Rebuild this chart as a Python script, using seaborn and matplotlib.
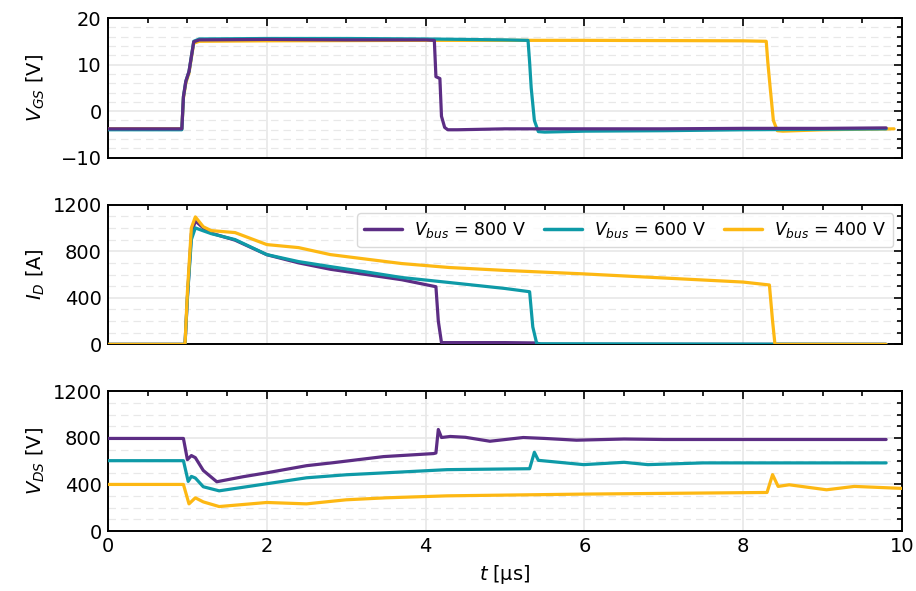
import matplotlib
matplotlib.use("Agg")
import matplotlib.pyplot as plt
import seaborn as sns
import pandas as pd
from matplotlib.ticker import MultipleLocator

# ---------------- data ----------------
labels = ["$V_{bus}$ = 800 V", "$V_{bus}$ = 600 V", "$V_{bus}$ = 400 V"]
colors = ["#5c2d84", "#0e9aa7", "#fdb813"]

# V_GS
vgs_t_800 = [0, 0.93, 0.95, 0.98, 1.02, 1.08, 1.15, 2.0, 3.0, 4.0, 4.11, 4.13, 4.18, 4.20, 4.24, 4.28, 4.4, 5, 6, 7, 8, 9, 9.8]
vgs_v_800 = [-3.8, -3.8, 3.1, 6.4, 8.5, 14.9, 15.3, 15.4, 15.3, 15.3, 15.2, 7.4, 7.0, -1.1, -3.5, -4.0, -4.0, -3.8, -3.8, -3.8, -3.7, -3.7, -3.6]
vgs_t_600 = [0, 0.93, 0.95, 0.98, 1.02, 1.08, 1.15, 2, 3, 4, 5, 5.29, 5.31, 5.33, 5.37, 5.42, 5.5, 6, 7, 8, 9, 9.8]
vgs_v_600 = [-4.0, -4.0, 3.1, 6.4, 8.5, 15.0, 15.5, 15.6, 15.6, 15.5, 15.3, 15.2, 10.5, 5.0, -2.0, -4.4, -4.5, -4.3, -4.2, -4.0, -3.9, -3.8]
vgs_t_400 = [0, 0.93, 0.95, 0.98, 1.02, 1.08, 1.15, 2, 4, 6, 8, 8.29, 8.31, 8.34, 8.38, 8.43, 8.5, 9, 9.9]
vgs_v_400 = [-3.8, -3.8, 2.8, 6.0, 8.2, 14.6, 15.0, 15.1, 15.2, 15.2, 15.1, 15.0, 10.5, 5.0, -2.0, -4.2, -4.3, -4.0, -3.8]

# I_D
id_t_800 = [0, 0.97, 1.0, 1.05, 1.10, 1.2, 1.3, 1.6, 2.0, 2.4, 2.8, 3.3, 3.7, 4.13, 4.16, 4.2, 5.0, 5.4, 5.45, 9.8]
id_v_800 = [0, 0, 400, 950, 1060, 1000, 955, 895, 770, 700, 645, 595, 555, 495, 200, 15, 15, 12, 0, 0]
id_t_600 = [0, 0.97, 1.0, 1.05, 1.10, 1.2, 1.3, 1.6, 2.0, 2.4, 2.8, 3.3, 3.7, 4.3, 5.0, 5.31, 5.35, 5.40, 9.8]
id_v_600 = [0, 0, 400, 900, 1000, 975, 951, 900, 771, 711, 668, 617, 574, 531, 480, 452, 150, 5, 0]
id_t_400 = [0, 0.97, 1.0, 1.05, 1.10, 1.2, 1.3, 1.6, 2.0, 2.4, 2.8, 3.3, 3.7, 4.3, 5, 6, 7, 8, 8.33, 8.37, 8.40, 9.8]
id_v_400 = [0, 0, 450, 1000, 1095, 1010, 977, 960, 857, 831, 771, 728, 694, 660, 635, 605, 570, 535, 510, 200, 0, 0]

# V_DS
vds_t_800 = [0, 0.95, 1.0, 1.05, 1.1, 1.2, 1.37, 1.7, 2.0, 2.5, 2.84, 3.47, 4.1, 4.13, 4.16, 4.2, 4.31, 4.5, 4.81, 5.23, 5.5, 5.9, 6.5, 7, 8, 9, 9.8]
vds_v_800 = [795, 795, 613, 648, 630, 520, 423, 466, 500, 561, 587, 639, 665, 670, 872, 803, 812, 805, 771, 803, 795, 780, 790, 786, 786, 786, 786]
vds_t_600 = [0, 0.95, 1.01, 1.05, 1.1, 1.2, 1.4, 2.0, 2.5, 3.0, 3.5, 4.27, 5.31, 5.37, 5.42, 5.99, 6.5, 6.8, 7.5, 9.8]
vds_v_600 = [604, 604, 426, 469, 455, 380, 345, 406, 457, 483, 500, 527, 535, 676, 607, 570, 590, 570, 585, 585]
vds_t_400 = [0, 0.95, 1.02, 1.1, 1.2, 1.4, 2.0, 2.5, 3.0, 3.5, 4.27, 5.99, 8.3, 8.37, 8.44, 8.58, 9.05, 9.4, 10]
vds_v_400 = [400, 400, 233, 285, 250, 210, 245, 233, 268, 285, 302, 317, 331, 484, 383, 397, 354, 383, 366]

panels = [
    ("$V_{GS}$ [V]", [(vgs_t_800, vgs_v_800), (vgs_t_600, vgs_v_600), (vgs_t_400, vgs_v_400)], (-10, 20), 10, 2, [5, 4, 3]),
    ("$I_D$ [A]", [(id_t_800, id_v_800), (id_t_600, id_v_600), (id_t_400, id_v_400)], (0, 1200), 400, 100, [3, 4, 5]),
    ("$V_{DS}$ [V]", [(vds_t_800, vds_v_800), (vds_t_600, vds_v_600), (vds_t_400, vds_v_400)], (0, 1200), 400, 100, [3, 4, 5]),
]

# ---------------- plotting ----------------
sns.set_style("white")
plt.rcParams["font.family"] = ["DejaVu Sans"]
plt.rcParams["mathtext.fontset"] = "dejavusans"
for k in ["text.color", "axes.labelcolor", "xtick.color", "ytick.color"]:
    plt.rcParams[k] = "black"

fig, axes = plt.subplots(3, 1, figsize=(9.16, 5.91), dpi=100, sharex=True)
fig.subplots_adjust(left=108/916, right=902/916, top=1-18/591, bottom=1-531/591, hspace=0.336)

for i, (ax, (ylabel, series, ylim, major, minor, zorders)) in enumerate(zip(axes, panels)):
    for (t, v), c, lab, z in zip(series, colors, labels, zorders):
        df = pd.DataFrame({"t": t, "v": v})
        sns.lineplot(data=df, x="t", y="v", ax=ax, color=c, lw=2.3, zorder=z,
                     label=lab if i == 1 else None, sort=False, estimator=None)
    ax.set_xlim(0, 10)
    ax.set_ylim(*ylim)
    ax.yaxis.set_major_locator(MultipleLocator(major))
    ax.yaxis.set_minor_locator(MultipleLocator(minor))
    ax.xaxis.set_major_locator(MultipleLocator(2))
    ax.xaxis.set_minor_locator(MultipleLocator(0.5))
    ax.grid(which="major", axis="both", color="#e8e8e8", lw=1.2, ls="-")
    ax.grid(which="minor", axis="y", color="#e8e8e8", lw=0.9, ls=(0, (6, 4)))
    ax.set_axisbelow(True)
    ax.tick_params(which="both", direction="in", top=True, right=True, labelsize=14, width=1.2,
                   colors="black", pad=4.5)
    ax.tick_params(which="major", length=6)
    ax.tick_params(which="minor", length=3.5)
    for s in ax.spines.values():
        s.set_color("black")
        s.set_linewidth(1.4)
    ax.set_ylabel(ylabel, fontsize=14)
    ax.set_xlabel("")

axes[2].set_xlabel("$t$ [µs]", fontsize=14, labelpad=5)
fig.align_ylabels(axes)

leg = axes[1].legend(loc="upper right", ncol=3, fontsize=12.5, handlelength=2.2,
                     columnspacing=1.0, handletextpad=0.7, borderpad=0.4,
                     frameon=True, fancybox=True, framealpha=0.8)
leg.get_frame().set_edgecolor("#d0d0d0")
for h in leg.get_lines():
    h.set_linewidth(2.5)

fig.savefig("out.png", dpi=100)
